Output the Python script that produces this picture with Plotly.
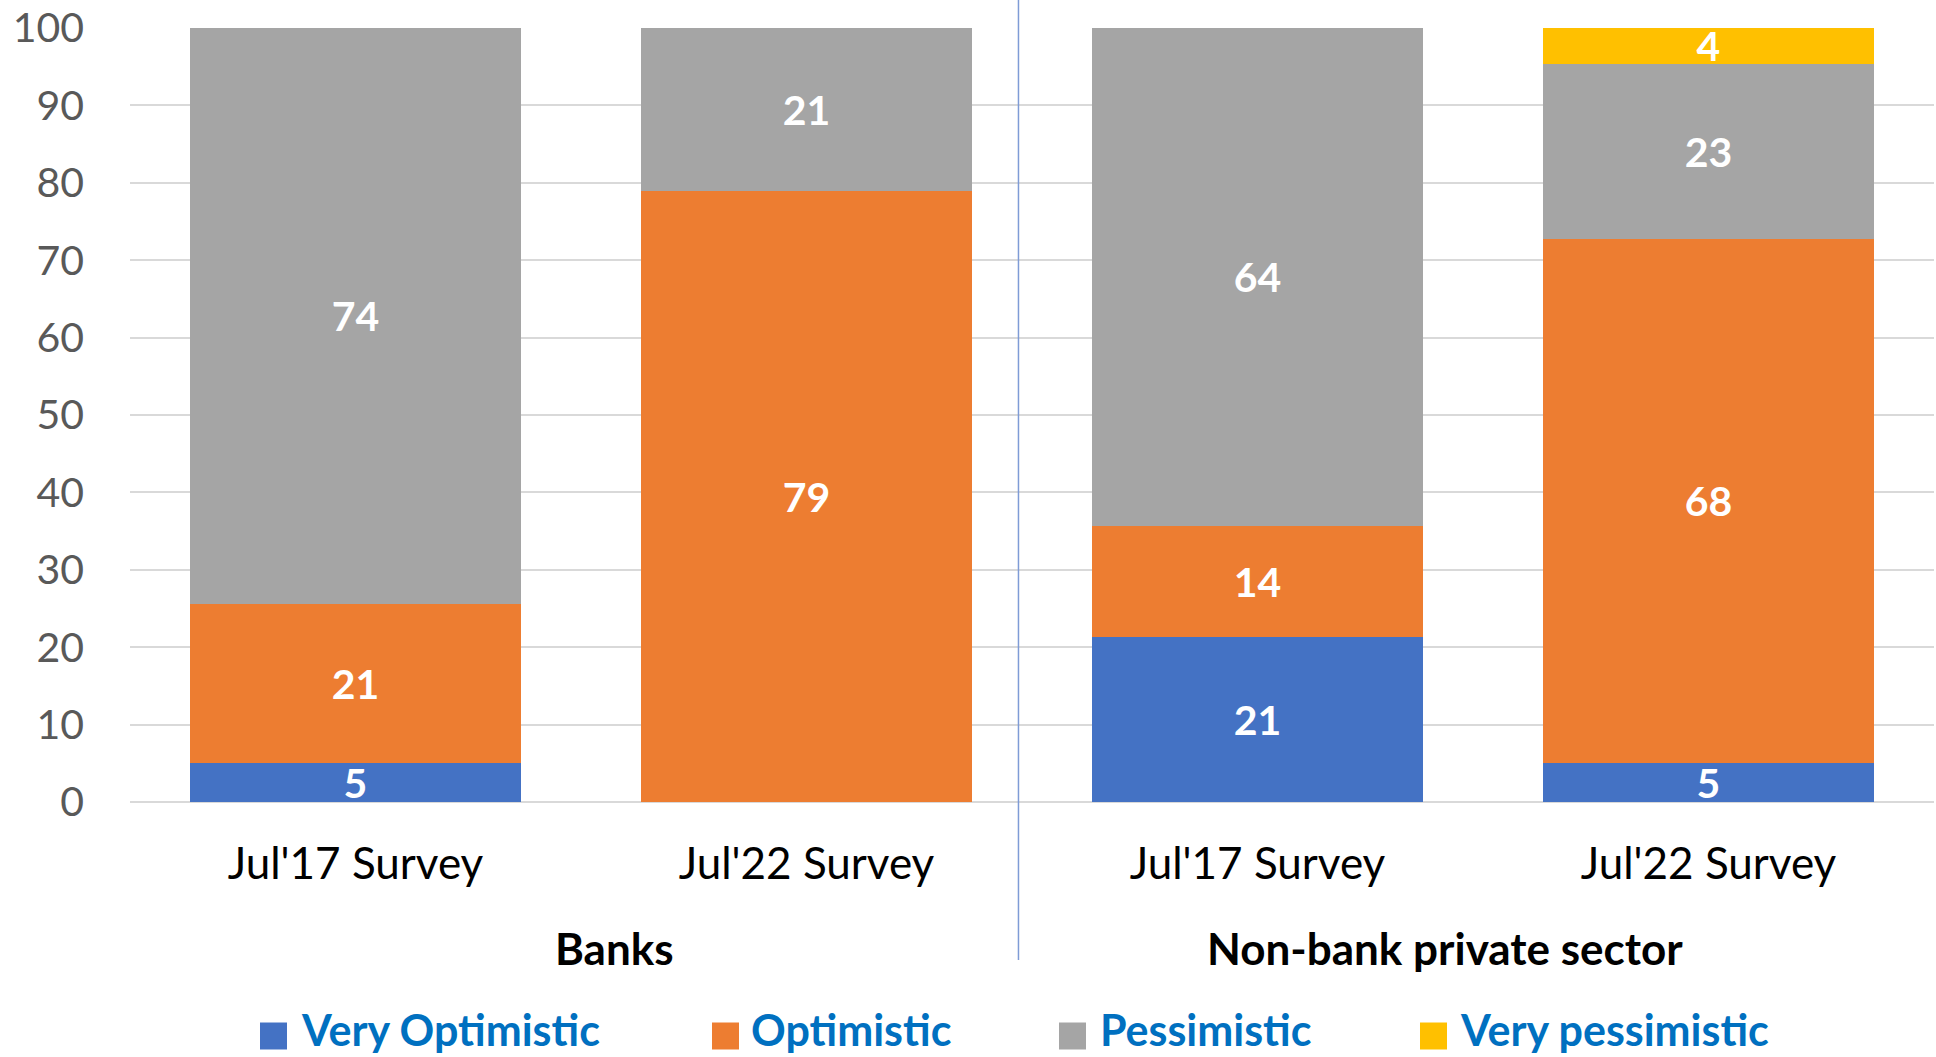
import plotly.graph_objects as go

# ---- data ----
categories = ["Jul'17 Survey", "Jul'22 Survey", "Jul'17 Survey", "Jul'22 Survey"]
groups = ["Banks", "Non-bank private sector"]
series_names = ["Very Optimistic", "Optimistic", "Pessimistic", "Very pessimistic"]

very_optimistic = [5.1, 0, 21.3, 5.1]
optimistic = [20.5, 79.0, 14.4, 67.7]
pessimistic = [74.4, 21.0, 64.3, 22.6]
very_pessimistic = [0, 0, 0, 4.6]

very_optimistic_labels = ["5", "", "21", "5"]
optimistic_labels = ["21", "79", "14", "68"]
pessimistic_labels = ["74", "21", "64", "23"]
very_pessimistic_labels = ["", "", "", "4"]

y_ticks = [0, 10, 20, 30, 40, 50, 60, 70, 80, 90, 100]

# ---- styling ----
colors = ["#4472C4", "#ED7D31", "#A5A5A5", "#FFC000"]
FONT = "Lato"
W, H = 1936, 1057
ML, MR, MT, MB = 130, 2, 28, 255
PW, PH = W - ML - MR, H - MT - MB

def px_x(px):
    return (px - ML) / PW

def px_y(py):
    return (H - MB - py) / PH

x_pos = list(range(len(categories)))
series_values = [very_optimistic, optimistic, pessimistic, very_pessimistic]
series_labels = [very_optimistic_labels, optimistic_labels, pessimistic_labels,
                 very_pessimistic_labels]

fig = go.Figure()
for name, vals, labs, col in zip(series_names, series_values, series_labels, colors):
    fig.add_trace(go.Bar(
        x=x_pos, y=vals, name=name, marker=dict(color=col, line=dict(width=0)),
        text=labs, textposition="inside", insidetextanchor="middle",
        textangle=0, constraintext="none",
        textfont=dict(family=FONT, size=41, color="white", weight="bold"),
        width=0.734, showlegend=False, hoverinfo="skip",
    ))

fig.update_layout(
    barmode="stack",
    width=W, height=H,
    margin=dict(l=ML, r=MR, t=MT, b=MB, pad=0),
    plot_bgcolor="white", paper_bgcolor="white",
    font=dict(family=FONT),
    showlegend=False,
)
fig.update_xaxes(
    range=[-0.5, len(categories) - 0.5],
    tickvals=x_pos, ticktext=categories,
    tickfont=dict(family=FONT, size=44, color="black"),
    showgrid=False, zeroline=False, showline=False, ticks="",
    ticklabelstandoff=32,
)
fig.update_yaxes(
    range=[0, 100], tickvals=y_ticks,
    tickfont=dict(family=FONT, size=41, color="#595959"),
    showgrid=True, gridcolor="#D9D9D9", gridwidth=2,
    zeroline=True, zerolinecolor="#D9D9D9", zerolinewidth=2,
    showline=False, ticks="", ticklabelstandoff=45,
)

# divider between groups
fig.add_shape(type="line", xref="x", yref="paper", x0=1.47, x1=1.47,
              y0=px_y(960), y1=px_y(0), line=dict(color="#7F9CD6", width=1.5))

# group labels
group_centers = [614, 1445]
for g, cx in zip(groups, group_centers):
    fig.add_annotation(text=g, xref="paper", yref="paper", x=px_x(cx), y=px_y(948),
                       xanchor="center", yanchor="middle", showarrow=False,
                       font=dict(family=FONT, size=44, color="black", weight="bold"))

# legend (manual)
sq_left = [260, 712, 1059, 1420]
txt_left = [299, 749, 1098, 1458]
ly = 1036
for name, col, sx, tx in zip(series_names, colors, sq_left, txt_left):
    fig.add_shape(type="rect", xref="paper", yref="paper",
                  x0=px_x(sx), x1=px_x(sx + 27), y0=px_y(ly - 13.5), y1=px_y(ly + 13.5),
                  fillcolor=col, line=dict(width=0))
    fig.add_annotation(text=name, xref="paper", yref="paper", x=px_x(tx), y=px_y(ly - 7),
                       xanchor="left", yanchor="middle", showarrow=False,
                       font=dict(family=FONT, size=43, color="#0070C0", weight="bold"))

fig.write_html("out.html")
